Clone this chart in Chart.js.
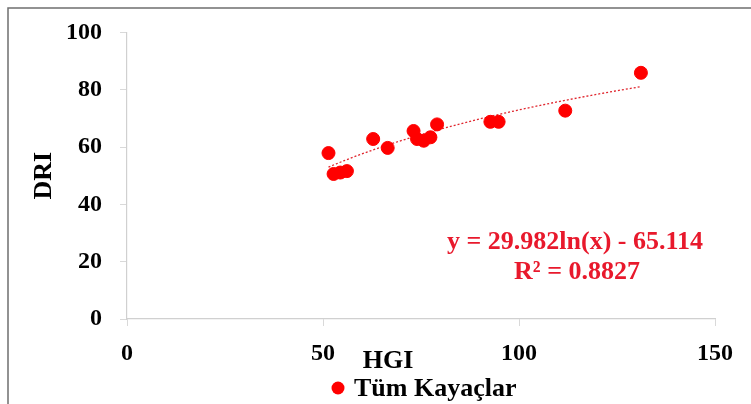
<!DOCTYPE html>
<html>
<head>
<meta charset="utf-8">
<script src="https://cdn.jsdelivr.net/npm/chart.js@4.4.1/dist/chart.umd.min.js"></script>
<style>
  html, body { margin: 0; padding: 0; background: #fff; }
  #wrap { width: 751px; height: 404px; position: relative; }
</style>
</head>
<body>
<div id="wrap"><canvas id="driChart" width="751" height="404"></canvas></div>
<script>
// HGI - DRI ölçümleri (tüm kayaçlar)
const hgi = [51.4, 52.7, 54.4, 56.1, 62.8, 66.5, 73.1, 74.0, 75.7, 77.4, 79.1, 92.7, 94.8, 111.8, 131.1];
const dri = [57.9, 50.6, 51.1, 51.6, 62.8, 59.7, 65.6, 62.8, 62.2, 63.4, 67.9, 68.8, 68.8, 72.7, 85.9];

// logaritmik trend çizgisi katsayıları: y = a ln(x) + b
const trendA = 29.982;
const trendB = -65.114;
const trendLabels = ['y = 29.982ln(x) - 65.114', 'R² = 0.8827'];

const xTicks = [0, 50, 100, 150];
const yTicks = [0, 20, 40, 60, 80, 100];
const seriesName = 'Tüm Kayaçlar';
const xTitle = 'HGI';
const yTitle = 'DRI';

const serif = '"Liberation Serif", "Times New Roman", serif';
const red = '#ff0000';
const textRed = '#e8192c';

const points = hgi.map((x, i) => ({ x: x, y: dri[i] }));

// trend çizgisi: en küçük ve en büyük HGI arasında
const xMin = Math.min(...hgi), xMax = Math.max(...hgi);
const trendPoints = [];
for (let i = 0; i <= 40; i++) {
    const x = xMin + (xMax - xMin) * i / 40;
    trendPoints.push({ x: x, y: trendA * Math.log(x) + trendB });
}

// çerçeve, eksen başlıkları, lejant ve denklem
const extras = {
    id: 'extras',
    beforeDraw(chart) {
        const ctx = chart.ctx;
        ctx.save();
        ctx.fillStyle = '#fff';
        ctx.fillRect(0, 0, chart.width, chart.height);
        ctx.strokeStyle = '#6f6f6f';
        ctx.lineWidth = 1.5;
        ctx.strokeRect(8, 8, chart.width + 20, chart.height + 20);
        ctx.restore();
    },
    afterDraw(chart) {
        const ctx = chart.ctx;
        const area = chart.chartArea;
        ctx.save();
        ctx.font = 'bold 26px ' + serif;
        ctx.fillStyle = '#000';
        ctx.textBaseline = 'middle';

        // y ekseni başlığı
        ctx.save();
        ctx.translate(44, (area.top + area.bottom) / 2);
        ctx.rotate(-Math.PI / 2);
        ctx.textAlign = 'center';
        ctx.fillText(yTitle, 0, 0);
        ctx.restore();

        // x ekseni başlığı
        ctx.textAlign = 'center';
        ctx.fillText(xTitle, 388, 361);

        // lejant
        ctx.beginPath();
        ctx.arc(338, 388, 6.5, 0, Math.PI * 2);
        ctx.fillStyle = red;
        ctx.fill();
        ctx.fillStyle = '#000';
        ctx.textAlign = 'left';
        ctx.fillText(seriesName, 354, 389);

        // denklem
        ctx.fillStyle = textRed;
        ctx.textAlign = 'center';
        ctx.fillText(trendLabels[0], 575, 242);
        ctx.fillText(trendLabels[1], 577, 272);
        ctx.restore();
    }
};

const ctx = document.getElementById('driChart').getContext('2d');
const driChart = new Chart(ctx, {
    type: 'scatter',
    data: {
        datasets: [
            {
                label: seriesName,
                data: points,
                backgroundColor: red,
                borderColor: red,
                pointRadius: 6.5,
                pointHoverRadius: 6.5,
                order: 1
            },
            {
                label: 'trend',
                data: trendPoints,
                showLine: true,
                borderColor: '#e0262e',
                borderWidth: 1.3,
                borderDash: [2, 2],
                pointRadius: 0,
                fill: false,
                order: 2
            }
        ]
    },
    options: {
        responsive: false,
        animation: false,
        events: [],
        layout: { padding: { left: 0, right: 36, top: 26, bottom: 0 } },
        plugins: {
            legend: { display: false },
            tooltip: { enabled: false }
        },
        scales: {
            x: {
                type: 'linear',
                min: 0,
                max: 150,
                afterBuildTicks: scale => { scale.ticks = xTicks.map(v => ({ value: v })); },
                afterFit: scale => { scale.height = 404 - 319; },
                grid: { drawOnChartArea: false, drawTicks: true, tickLength: 7, tickColor: '#d9d9d9' },
                border: { color: '#d0d0d0', width: 1.2 },
                ticks: {
                    padding: 13,
                    color: '#000',
                    font: { family: serif, size: 24, weight: 'bold' }
                }
            },
            y: {
                type: 'linear',
                min: 0,
                max: 100,
                afterBuildTicks: scale => { scale.ticks = yTicks.map(v => ({ value: v })); },
                afterFit: scale => { scale.width = 127; },
                grid: { drawOnChartArea: false, drawTicks: true, tickLength: 7, tickColor: '#d9d9d9' },
                border: { color: '#d0d0d0', width: 1.2 },
                ticks: {
                    padding: 18,
                    color: '#000',
                    font: { family: serif, size: 24, weight: 'bold' }
                }
            }
        }
    },
    plugins: [extras]
});
</script>
</body>
</html>
